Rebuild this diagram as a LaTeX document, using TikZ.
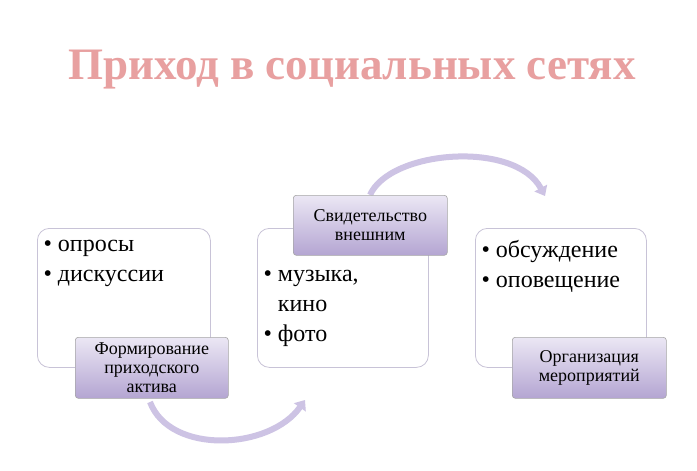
\documentclass[tikz,border=0pt]{standalone}
\usepackage{fontspec}
\setmainfont{Liberation Serif}
\usetikzlibrary{arrows.meta}
\definecolor{titlec}{RGB}{232,160,160}
\definecolor{lav}{RGB}{205,195,228}
\definecolor{lavdark}{RGB}{180,165,210}
\definecolor{boxline}{RGB}{200,195,215}
\tikzset{x=1pt,y=-1pt,
 bigbox/.style={draw=boxline,line width=0.8pt,rounded corners=12pt,fill=white},
 labbox/.style={draw=gray!70,line width=0.6pt,rounded corners=3pt,top color=lav!40,bottom color=lavdark,align=center,font=\fontsize{18}{19}\selectfont},
 itemtxt/.style={anchor=north west,align=left,font=\fontsize{24}{30}\selectfont},
 curvearrow/.style={draw=lav,line width=6pt,-{Triangle[length=9pt,width=14pt]}}}
\begin{document}
\begin{tikzpicture}
\useasboundingbox[fill=white] (0,0) rectangle (697,471);
\node[font=\bfseries\fontsize{45}{48}\selectfont,text=titlec] (title) at (352,70) {Приход в социальных сетях};
% arrows
\coordinate (a1s) at (150,402); \coordinate (a1e) at (305,400);
\draw[curvearrow] (a1s) .. controls (170,455) and (270,450) .. (a1e);
\coordinate (a2s) at (370,195); \coordinate (a2e) at (545,196);
\draw[curvearrow] (a2s) .. controls (390,150) and (515,140) .. (a2e);
% boxes
\node[bigbox,minimum width=173,minimum height=139,anchor=north west] (b1) at (37,228) {};
\node[bigbox,minimum width=171,minimum height=139,anchor=north west] (b2) at (257,228) {};
\node[bigbox,minimum width=171,minimum height=139,anchor=north west] (b3) at (475,228) {};
\node[itemtxt] (t1) at (40,237) {• опросы\\• дискуссии};
\node[itemtxt] (t2) at (260,267) {• музыка,\\\phantom{• }кино\\• фото};
\node[itemtxt] (t3) at (478,237) {• обсуждение\\• оповещение};
\node[labbox,minimum width=153,minimum height=61,anchor=north west] (l1) at (75,337) {Формирование\\приходского\\актива};
\node[labbox,minimum width=154,minimum height=60,anchor=north west] (l2) at (293,195) {Свидетельство\\внешним};
\node[labbox,minimum width=154,minimum height=61,anchor=north west] (l3) at (512,337) {Организация\\мероприятий};
\end{tikzpicture}
\end{document}
